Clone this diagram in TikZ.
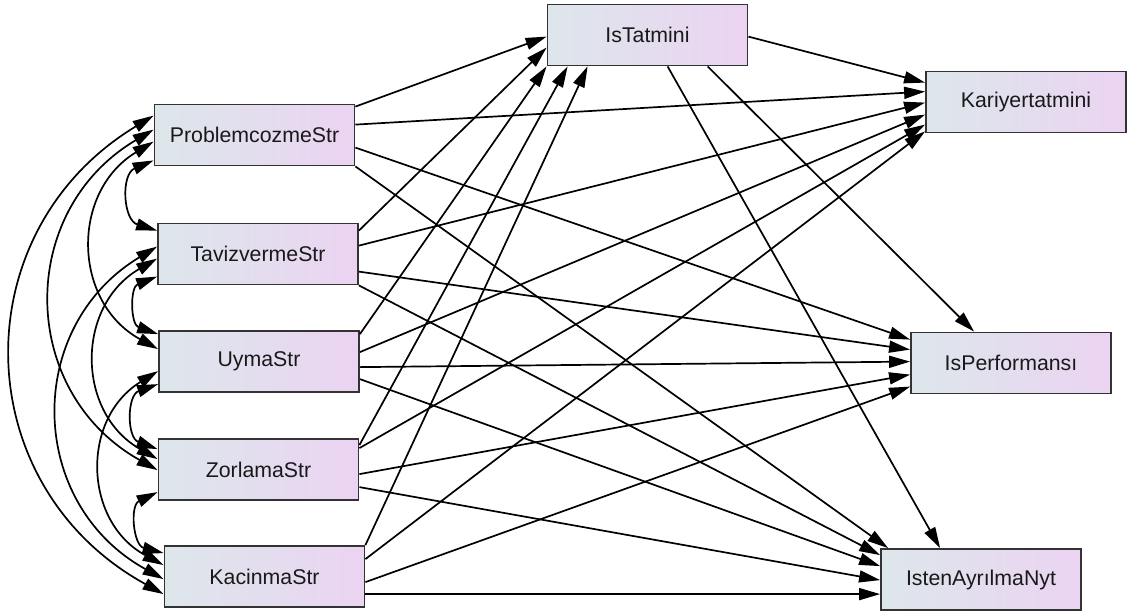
\documentclass[tikz,border=0pt]{standalone}
\usepackage{fontspec}
\setmainfont{Liberation Sans}
\usetikzlibrary{arrows.meta,calc}
\definecolor{vleft}{HTML}{DDE7EB}
\definecolor{vright}{HTML}{EBD3F2}
\begin{document}
\begin{tikzpicture}[x=1pt,y=-1pt,
  var/.style={draw=black!80, line width=1.8pt, left color=vleft, right color=vright,
    minimum width=200pt, minimum height=61pt, inner sep=0pt,
    font=\fontsize{21.3}{25}\selectfont, text=black!90},
  reg/.style={line width=1.7pt, -{Triangle[length=21pt,width=12pt]}},
  covar/.style={line width=1.7pt, {Triangle[length=21pt,width=12pt]}-{Triangle[length=21pt,width=12pt]}}]
\useasboundingbox (0,0) rectangle (1129,614);
% exogenous
\node[var] (prob)  at (254.5,135)   {ProblemcozmeStr};
\node[var] (taviz) at (258,254)     {TavizvermeStr};
\node[var] (uyma)  at (259,361.5)   {UymaStr};
\node[var] (zorl)  at (258.5,469.5) {ZorlamaStr};
\node[var] (kac)   at (264.5,576.5) {KacinmaStr};
% endogenous
\node[var] (ist)   at (647.5,35)    {IsTatmini};
\node[var] (kar)   at (1026,102)    {Kariyertatmini};
\node[var] (perf)  at (1011,363)    {IsPerformansı};
\node[var] (isten) at (981,579.5)   {IstenAyrılmaNyt};
% regressions
\draw[reg] ($(prob.north east)+(0,3)$) -- ($(ist.north west)+(0,33)$);
\draw[reg] ($(prob.north east)+(0,21)$) -- ($(kar.north west)+(0,21)$);
\draw[reg] ($(prob.north east)+(0,44)$) -- ($(perf.north west)+(0,8)$);
\draw[reg] (prob.south east) -- ($(isten.north west)+(8,0)$);
\draw[reg] ($(taviz.north east)+(0,8)$) -- ($(ist.north west)+(0,44)$);
\draw[reg] ($(taviz.north east)+(0,23)$) -- ($(kar.north west)+(0,32)$);
\draw[reg] ($(taviz.north east)+(0,49)$) -- ($(perf.north west)+(0,18)$);
\draw[reg] (taviz.south east) -- ($(isten.north west)+(0,7)$);
\draw[reg] ($(uyma.north east)+(0,4)$) -- (ist.south west);
\draw[reg] ($(uyma.north east)+(0,22)$) -- ($(kar.north west)+(0,44)$);
\draw[reg] ($(uyma.north east)+(0,37)$) -- ($(perf.north west)+(0,30)$);
\draw[reg] ($(uyma.north east)+(0,49)$) -- ($(isten.north west)+(0,18)$);
\draw[reg] ($(zorl.north east)+(0,7)$) -- ($(ist.south west)+(21,0)$);
\draw[reg] ($(zorl.north east)+(0,10)$) -- ($(kar.north west)+(0,54)$);
\draw[reg] ($(zorl.north east)+(0,36)$) -- ($(perf.north west)+(0,43)$);
\draw[reg] ($(zorl.north east)+(0,49)$) -- ($(isten.north west)+(0,32)$);
\draw[reg] (kac.north east) -- ($(ist.south west)+(41,0)$);
\draw[reg] ($(kac.north east)+(0,14)$) -- ($(kar.south west)+(0,-2)$);
\draw[reg] ($(kac.north east)+(0,37)$) -- ($(perf.north west)+(0,55)$);
\draw[reg] ($(kac.north east)+(0,49)$) -- ($(isten.north west)+(0,46)$);
\draw[reg] ($(ist.north east)+(0,33)$) -- ($(kar.north west)+(0,12)$);
\draw[reg] ($(ist.south west)+(161,0)$) -- ($(perf.north west)+(64,0)$);
\draw[reg] ($(ist.south west)+(121,0)$) -- ($(isten.north west)+(60,0)$);
% covariances
\draw[covar] ($(prob.south west)+(0,-6)$) to[bend right=70, looseness=1.3] ($(taviz.north west)+(0,8)$);
\draw[covar] ($(taviz.north west)+(0,54)$) to[bend right=70, looseness=1.3] ($(uyma.north west)+(0,4)$);
\draw[covar] ($(uyma.north west)+(0,54)$) to[bend right=70, looseness=1.3] ($(zorl.north west)+(0,11)$);
\draw[covar] ($(zorl.north west)+(0,54)$) to[bend right=70, looseness=1.3] ($(kac.north west)+(0,8)$);
\draw[covar] ($(prob.north west)+(0,38)$) to[bend right=60, looseness=1.2] ($(uyma.north west)+(0,19)$);
\draw[covar] ($(taviz.north west)+(0,36)$) to[bend right=60, looseness=1.2] ($(zorl.north west)+(0,21)$);
\draw[covar] ($(uyma.north west)+(0,41)$) to[bend right=60, looseness=1.2] ($(kac.north west)+(0,20)$);
\draw[covar] ($(prob.north west)+(0,26)$) to[bend right=60, looseness=1.2] ($(zorl.north west)+(0,32)$);
\draw[covar] ($(taviz.north west)+(0,24)$) to[bend right=60, looseness=1.2] ($(kac.north west)+(0,34)$);
\draw[covar] ($(prob.north west)+(0,12)$) to[bend right=60, looseness=1.2] ($(kac.north west)+(0,49)$);
\end{tikzpicture}
\end{document}
